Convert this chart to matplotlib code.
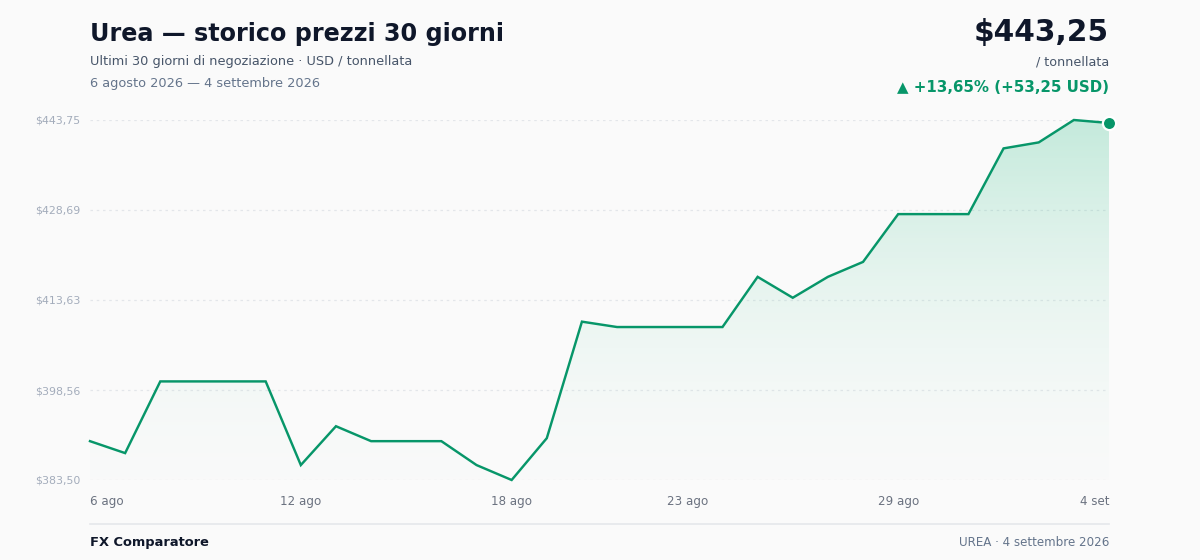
import matplotlib
matplotlib.use("Agg")
import matplotlib.pyplot as plt
import numpy as np
from matplotlib.colors import LinearSegmentedColormap
from matplotlib.patches import Polygon

# ---- data ----
dates = ["6 ago", "7 ago", "8 ago", "9 ago", "10 ago", "11 ago", "12 ago", "13 ago", "14 ago", "15 ago",
         "16 ago", "17 ago", "18 ago", "19 ago", "20 ago", "21 ago", "22 ago", "23 ago", "24 ago", "25 ago",
         "26 ago", "27 ago", "28 ago", "29 ago", "30 ago", "31 ago", "1 set", "2 set", "3 set", "4 set"]
prices = [390.00, 388.00, 400.00, 400.00, 400.00, 400.00, 386.00, 392.50, 390.00, 390.00,
          390.00, 386.00, 383.50, 390.50, 410.00, 409.10, 409.10, 409.10, 409.10, 417.50,
          414.00, 417.50, 420.00, 428.00, 428.00, 428.00, 439.00, 440.00, 443.75, 443.25]
xtick_idx = [0, 6, 12, 17, 23, 29]
ytick_vals = [383.50, 398.56, 413.63, 428.69, 443.75]
ytick_labels = ["$383,50", "$398,56", "$413,63", "$428,69", "$443,75"]

title = "Urea — storico prezzi 30 giorni"
subtitle = "Ultimi 30 giorni di negoziazione · USD / tonnellata"
daterange = "6 agosto 2026 — 4 settembre 2026"
price_txt = "$443,25"
unit_txt = "/ tonnellata"
change_txt = "▲ +13,65% (+53,25 USD)"
footer_left = "FX Comparatore"
footer_right = "UREA · 4 settembre 2026"

GREEN = "#079669"
BG = "#fafafa"
DARK = "#0f172a"

fig = plt.figure(figsize=(12, 5.6), dpi=100, facecolor=BG)
L, R = 90 / 1200, 1109 / 1200
B, T = (560 - 480) / 560, (560 - 120) / 560
ax = fig.add_axes([L, B, R - L, T - B])
ax.set_facecolor(BG)

x = np.arange(len(prices))
ymin, ymax = ytick_vals[0], ytick_vals[-1]
ax.set_xlim(0, len(prices) - 1)
ax.set_ylim(ymin, ymax)

# gradient fill under the line
grad = np.linspace(0, 1, 256).reshape(-1, 1)
cmap = LinearSegmentedColormap.from_list("g", [(1, 1, 1, 0.0), (0.10, 0.72, 0.48, 0.24)])
im = ax.imshow(grad, aspect="auto", cmap=cmap, origin="lower",
               extent=[0, len(prices) - 1, ymin - 10, max(prices)], zorder=1)
verts = [(0, ymin - 10)] + list(zip(x, prices)) + [(len(prices) - 1, ymin - 10)]
poly = Polygon(verts, closed=True, facecolor="none", edgecolor="none")
ax.add_patch(poly)
im.set_clip_path(poly)

# grid
for v in ytick_vals:
    ax.axhline(v, color="#e3e6ea", lw=0.9, ls=(0, (2, 3)), zorder=0)

ax.plot(x, prices, color=GREEN, lw=1.75, zorder=3, solid_joinstyle="miter", clip_on=False)
ax.plot([x[-1]], [prices[-1]], marker="o", ms=9.5, color=GREEN, mec="white", mew=1.6,
        zorder=4, clip_on=False)

for s in ax.spines.values():
    s.set_visible(False)
ax.set_yticks(ytick_vals)
ax.set_yticklabels(ytick_labels)
ax.tick_params(axis="y", length=0, pad=7, labelsize=7.9, labelcolor="#a3acbb")
ax.set_xticks(xtick_idx)
ax.set_xticklabels([dates[i] for i in xtick_idx])
ax.tick_params(axis="x", length=0, pad=11, labelsize=8.6, labelcolor="#6b7280")
xl = ax.get_xticklabels()
xl[0].set_ha("left")
xl[-1].set_ha("right")

# header texts
fig.text(90 / 1200, 1 - 41.5 / 560, title, fontsize=17.2, fontweight="bold", color=DARK,
         ha="left", va="baseline")
fig.text(90 / 1200, 1 - 65.5 / 560, subtitle, fontsize=9.3, color="#475569", ha="left", va="baseline")
fig.text(90 / 1200, 1 - 87.5 / 560, daterange, fontsize=9.3, color="#64748b", ha="left", va="baseline")
fig.text(1109 / 1200, 1 - 41.5 / 560, price_txt, fontsize=21.3, fontweight="bold", color=DARK,
         ha="right", va="baseline")
fig.text(1109 / 1200, 1 - 65.5 / 560, unit_txt, fontsize=9.2, color="#475569", ha="right", va="baseline")
fig.text(1109 / 1200, 1 - 91.5 / 560, change_txt, fontsize=10.8, fontweight="bold", color=GREEN,
         ha="right", va="baseline")

# footer
fig.add_artist(plt.Line2D([90 / 1200, 1109 / 1200], [1 - 524 / 560] * 2, color="#e5e7eb", lw=1.2))
fig.text(90 / 1200, 1 - 546 / 560, footer_left, fontsize=9.4, fontweight="bold", color=DARK,
         ha="left", va="baseline")
fig.text(1109 / 1200, 1 - 546 / 560, footer_right, fontsize=8.6, color="#64748b",
         ha="right", va="baseline")

fig.savefig("out.png", dpi=100, facecolor=BG)
